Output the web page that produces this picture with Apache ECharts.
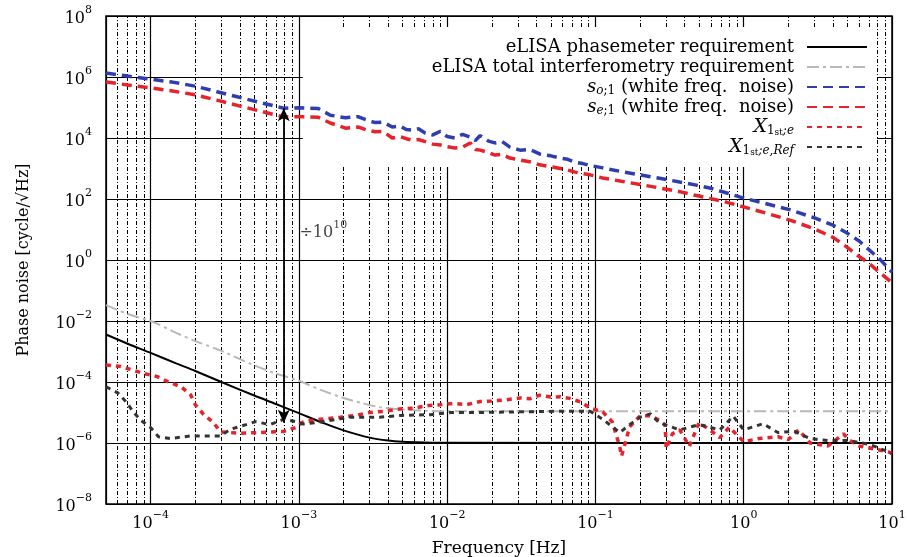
<!DOCTYPE html>
<html>
<head>
<meta charset="utf-8">
<script src="https://cdn.jsdelivr.net/npm/echarts@6/dist/echarts.min.js"></script>
<style>
html,body{margin:0;padding:0;background:#fff;}
#chart{width:907px;height:557px;}
</style>
</head>
<body>
<div id="chart"></div>
<script>
// ---------- data ----------
const seriesNames = [
  'eLISA phasemeter requirement',
  'eLISA total interferometry requirement',
  's_o1',
  's_e1',
  'X1e',
  'X1eRef'
];

// eLISA phasemeter requirement
const freqPM = [5e-5, 7e-5, 1e-4, 1.5e-4, 2e-4, 3e-4, 5e-4, 7e-4, 1e-3, 1.5e-3, 2e-3, 3e-3, 4e-3, 5e-3, 7e-3, 1e-2, 10];
const valPM  = [3.6e-3, 1.8e-3, 9e-4, 4e-4, 2.3e-4, 1e-4, 3.6e-5, 1.9e-5, 9.5e-6, 4.3e-6, 2.6e-6, 1.5e-6, 1.2e-6, 1.1e-6, 1.04e-6, 1.01e-6, 1e-6];

// eLISA total interferometry requirement
const freqTI = [5e-5, 7e-5, 1e-4, 1.5e-4, 2e-4, 3e-4, 5e-4, 7e-4, 1e-3, 1.4e-3, 2e-3, 2.7e-3, 3.5e-3, 5e-3, 7e-3, 1e-2, 10];
const valTI  = [3.3e-2, 1.7e-2, 1.0e-2, 4e-3, 2.2e-3, 1.05e-3, 3.5e-4, 1.9e-4, 1.1e-4, 5.5e-5, 3e-5, 2e-5, 1.5e-5, 1.25e-5, 1.15e-5, 1.1e-5, 1.1e-5];

// s_{o;1} and s_{e;1} (white freq. noise)
const freqS = [5e-5, 7e-5, 1e-4, 1.4e-4, 2e-4, 2.8e-4, 3.9e-4, 5.5e-4, 7.9e-4, 1e-3,
  1.35e-3, 1.63e-3, 2.06e-3, 2.5e-3, 2.9e-3, 3.27e-3, 3.7e-3, 4.26e-3, 4.8e-3, 5.3e-3,
  5.8e-3, 6.4e-3, 7.1e-3, 8e-3, 9e-3, 1e-2, 1.13e-2, 1.27e-2, 1.43e-2, 1.55e-2,
  1.67e-2, 1.9e-2, 2.1e-2, 2.35e-2, 2.65e-2, 3.1e-2, 3.6e-2, 4.2e-2, 5e-2, 5.8e-2,
  6.5e-2, 7.3e-2, 8.2e-2, 9.2e-2, 0.112, 0.15, 0.2, 0.27, 0.37, 0.47,
  0.59, 0.76, 1, 1.4, 2.07, 3.0, 4.0, 4.94, 6.0, 7.05, 8.3, 10];
const valSo = [1.35e6, 1.07e6, 8.5e5, 6.8e5, 5.0e5, 3.3e5, 2.2e5, 1.45e5, 9.5e4, 9.8e4,
  9.3e4, 5.6e4, 4.6e4, 5.0e4, 3.8e4, 3.2e4, 3.3e4, 2.3e4, 2.5e4, 1.9e4,
  1.8e4, 2.0e4, 1.45e4, 1.26e4, 1.66e4, 1.12e4, 1.0e4, 1.32e4, 1.07e4, 8.3e3,
  1.2e4, 7.9e3, 6.9e3, 7.6e3, 5.0e3, 4.0e3, 4.2e3, 3.0e3, 2.6e3, 2.2e3,
  2.0e3, 1.6e3, 1.45e3, 1.26e3, 1.05e3, 7.9e2, 6.2e2, 4.8e2, 3.6e2, 2.9e2,
  2.3e2, 1.6e2, 1.07e2, 71, 44, 24, 13.8, 7.8, 4.2, 2.1, 1.05, 0.4];
const valSe = [6.9e5, 5.5e5, 4.4e5, 3.5e5, 2.6e5, 1.74e5, 1.15e5, 7.6e4, 4.9e4, 5.0e4,
  4.8e4, 3.1e4, 2.1e4, 2.3e4, 1.8e4, 1.6e4, 1.66e4, 1.0e4, 1.12e4, 9.5e3,
  8.5e3, 8.9e3, 7.6e3, 6.3e3, 5.9e3, 5.2e3, 4.7e3, 5.0e3, 6.9e3, 4.2e3,
  4.0e3, 3.3e3, 2.75e3, 2.9e3, 2.2e3, 1.9e3, 1.66e3, 1.32e3, 1.15e3, 1.0e3,
  8.9e2, 7.6e2, 6.8e2, 6.2e2, 4.9e2, 3.8e2, 3.0e2, 2.3e2, 1.74e2, 1.32e2,
  1.05e2, 79, 55, 35, 20, 10.5, 5.5, 2.7, 1.3, 0.76, 0.38, 0.18];

// X_{1st;e}
const freqX = [5e-5, 5.4e-5, 6.3e-5, 7.7e-5, 9e-5, 1.11e-4, 1.32e-4, 1.6e-4, 1.86e-4, 2e-4,
  2.28e-4, 2.66e-4, 2.96e-4, 4e-4, 5.5e-4, 7.9e-4, 9.5e-4, 1.07e-3, 1.3e-3, 1.9e-3,
  2.4e-3, 3e-3, 3.8e-3, 4.8e-3, 6e-3, 7.5e-3, 9e-3, 1.1e-2, 1.35e-2, 1.67e-2,
  2e-2, 2.5e-2, 3.1e-2, 3.6e-2, 4.2e-2, 5e-2, 5.8e-2, 6.7e-2, 8e-2, 9.2e-2,
  0.112, 0.13, 0.146, 0.15, 0.17, 0.2, 0.235, 0.27, 0.295, 0.3,
  0.33, 0.37, 0.43, 0.5, 0.59, 0.69, 0.8, 1.0, 1.27, 1.7,
  2.0, 2.35, 2.8, 3.7, 4.7, 5.2, 6, 8.1, 9.6, 10];
const valX = [3.6e-4, 3.5e-4, 3.2e-4, 2.4e-4, 1.9e-4, 1.5e-4, 1.0e-4, 7e-5, 3.8e-5, 1.8e-5,
  8.6e-6, 4.6e-6, 2.3e-6, 2.1e-6, 2.2e-6, 2.4e-6, 3.2e-6, 4.9e-6, 5.8e-6, 7e-6,
  8e-6, 1e-5, 1.1e-5, 1.3e-5, 1.4e-5, 1.7e-5, 1.8e-5, 2.0e-5, 1.8e-5, 2.3e-5,
  2.4e-5, 2.6e-5, 3.0e-5, 2.8e-5, 3.7e-5, 3.2e-5, 3.3e-5, 2.9e-5, 2.2e-5, 1.4e-5,
  1.05e-5, 4.9e-6, 7.4e-7, 3.7e-7, 3.4e-6, 7.8e-6, 7.8e-6, 5.5e-6, 4e-6, 6.6e-7,
  2e-6, 2.7e-6, 7.8e-7, 4.7e-6, 2.7e-6, 1.5e-6, 3.3e-6, 1.1e-6, 1.4e-6, 1.6e-6,
  1.3e-6, 2.7e-6, 1.0e-6, 8e-7, 2.0e-6, 1.2e-6, 8e-7, 6e-7, 5e-7, 4.5e-7];

// X_{1st;e,Ref}
const freqR = [5e-5, 6e-5, 6.8e-5, 7.7e-5, 8.6e-5, 1e-4, 1.13e-4, 1.36e-4, 1.86e-4, 2.96e-4,
  3.45e-4, 4.4e-4, 5.1e-4, 6.4e-4, 7.9e-4, 9.5e-4, 1.07e-3, 1.4e-3, 2.2e-3, 3.5e-3,
  4.8e-3, 7.7e-3, 1.05e-2, 1.67e-2, 3.1e-2, 5.8e-2, 9.2e-2, 0.112, 0.146, 0.17,
  0.2, 0.235, 0.27, 0.37, 0.5, 0.69, 0.85, 1.0, 1.35, 1.7,
  2.2, 2.8, 3.7, 5.1, 7.05, 9.6, 10];
const valR = [7e-5, 4.4e-5, 2.3e-5, 1e-5, 5.5e-6, 3.2e-6, 1.6e-6, 1.4e-6, 1.7e-6, 1.7e-6,
  2.8e-6, 4e-6, 5e-6, 4e-6, 6e-6, 5e-6, 4.2e-6, 4.9e-6, 7e-6, 7e-6,
  8e-6, 8.5e-6, 1e-5, 1e-5, 1.05e-5, 1.1e-5, 1.1e-5, 6e-6, 2.2e-6, 4e-6,
  7e-6, 9e-6, 4.6e-6, 2.7e-6, 4e-6, 2.7e-6, 7.6e-6, 2.7e-6, 4.3e-6, 2.2e-6,
  2.4e-6, 1.4e-6, 1.2e-6, 1.2e-6, 9e-7, 5e-7, 4.5e-7];

// annotation: ratio arrow
const arrowFreq = 7.9e-4;
const arrowTop = 9.5e4;
const arrowBottom = 4.6e-6;
const arrowLabelPos = [1.0e-3, 9.5];

// axis ranges
const xMin = 5e-5, xMax = 10;
const yMin = 1e-8, yMax = 1e8;
const minorDecades = [-5, -4, -3, -2, -1, 0];
const minorMultipliers = [2, 3, 4, 5, 6, 7, 8, 9];

// ---------- chart ----------
const FONT = 'DejaVu Serif';
const pair = (f, v) => f.map((x, i) => [x, v[i]]);

const minorLines = [];
minorDecades.forEach(d => minorMultipliers.forEach(m => {
  const v = m * Math.pow(10, d);
  if (v > xMin * 1.0001 && v < xMax * 0.9999) minorLines.push({ xAxis: v });
}));

function powLabel(v) {
  const e = Math.round(Math.log10(v));
  if (Math.abs(v / Math.pow(10, e) - 1) > 1e-6) return '';
  const s = e < 0 ? '\u2212' + (-e) : String(e);
  return '{b|10}{s|' + s + '}';
}
const powRich = {
  b: { fontFamily: FONT, fontSize: 16, lineHeight: 22, verticalAlign: 'bottom', color: '#000' },
  s: { fontFamily: FONT, fontSize: 11, lineHeight: 12, verticalAlign: 'top', color: '#000' }
};

const legendText = {
  'eLISA phasemeter requirement': 'eLISA phasemeter requirement',
  'eLISA total interferometry requirement': 'eLISA total interferometry requirement',
  's_o1': '{i|s}{subi|o}{sub|;1} (white freq.  noise)',
  's_e1': '{i|s}{subi|e}{sub|;1} (white freq.  noise)',
  'X1e': '{X|X}{sub|1}{ss|st}{subi|;e}',
  'X1eRef': '{X|X}{sub|1}{ss|st}{subi|;e,Ref}'
};

const chart = echarts.init(document.getElementById('chart'), null, { renderer: 'canvas' });
chart.setOption({
  animation: false,
  backgroundColor: '#fff',
  grid: { left: 106, right: 15, top: 16, bottom: 53, show: true, borderColor: '#000', borderWidth: 1.5, containLabel: false, outerBoundsMode: 'none' },
  xAxis: {
    type: 'log', logBase: 10, min: xMin, max: xMax,
    name: 'Frequency [Hz]', nameLocation: 'middle', nameGap: 36,
    nameTextStyle: { fontFamily: FONT, fontSize: 17, color: '#000' },
    axisLine: { show: false }, axisTick: { show: false },
    axisLabel: { interval: 0, margin: 6, formatter: powLabel, rich: powRich, hideOverlap: false },
    splitLine: { show: true, lineStyle: { color: '#000', width: 1.2, type: 'solid' } },
    minorSplitLine: { show: false }
  },
  yAxis: {
    type: 'log', logBase: 100, min: yMin, max: yMax, splitNumber: 8,
    name: 'Phase noise [cycle/\u221AHz]', nameLocation: 'middle', nameGap: 74,
    nameTextStyle: { fontFamily: FONT, fontSize: 16, color: '#000' },
    axisLine: { show: false }, axisTick: { show: false },
    axisLabel: { margin: 14, formatter: powLabel, rich: powRich },
    splitLine: { show: true, lineStyle: { color: '#000', width: 1.2, type: 'solid' } }
  },
  legend: {
    data: seriesNames,
    orient: 'vertical', align: 'right', right: 30, top: 27,
    padding: [10, 9, 10, 129], backgroundColor: '#fff', z: 1,
    itemWidth: 60, itemHeight: 14, itemGap: 0, selectedMode: false,
    itemStyle: { opacity: 0 },
    formatter: n => legendText[n],
    textStyle: {
      fontFamily: FONT, fontSize: 18, color: '#000', lineHeight: 20, padding: [0, 8, 0, 0],
      rich: {
        i: { fontFamily: FONT, fontSize: 18, fontStyle: 'italic', lineHeight: 20 },
        X: { fontFamily: FONT, fontSize: 19, fontStyle: 'italic', lineHeight: 20 },
        sub: { fontFamily: FONT, fontSize: 12, lineHeight: 10, verticalAlign: 'bottom' },
        subi: { fontFamily: FONT, fontSize: 12, fontStyle: 'italic', lineHeight: 10, verticalAlign: 'bottom' },
        ss: { fontFamily: FONT, fontSize: 9, lineHeight: 15, verticalAlign: 'bottom' }
      }
    }
  },
  series: [
    {
      name: 'minor-grid', type: 'line', data: [], z: 0, silent: true,
      markLine: {
        z: 0, silent: true, symbol: ['none', 'none'], animation: false, precision: 12,
        label: { show: false },
        lineStyle: { color: '#000', width: 1, type: [4, 2, 1, 2] },
        data: minorLines
      }
    },
    {
      name: seriesNames[0], type: 'line', data: pair(freqPM, valPM), z: 3,
      symbol: 'none', smooth: 0.3,
      lineStyle: { color: '#000', width: 2, type: 'solid' }, itemStyle: { color: '#000' }
    },
    {
      name: seriesNames[1], type: 'line', data: pair(freqTI, valTI), z: 3,
      symbol: 'none', smooth: 0.3,
      lineStyle: { color: '#b8b8b8', width: 2, type: [12, 4, 3, 4] }, itemStyle: { color: '#b8b8b8' }
    },
    {
      name: seriesNames[2], type: 'line', data: pair(freqS, valSo), z: 4,
      symbol: 'none',
      lineStyle: { color: '#2e3db0', width: 3.5, type: [10, 6] }, itemStyle: { color: '#2e3db0' }
    },
    {
      name: seriesNames[3], type: 'line', data: pair(freqS, valSe), z: 4,
      symbol: 'none',
      lineStyle: { color: '#e8222a', width: 3.5, type: [10, 6] }, itemStyle: { color: '#e8222a' }
    },
    {
      name: seriesNames[4], type: 'line', data: pair(freqX, valX), z: 5,
      symbol: 'none',
      lineStyle: { color: '#e8222a', width: 3.5, type: [5, 5] }, itemStyle: { color: '#e8222a' }
    },
    {
      name: seriesNames[5], type: 'line', data: pair(freqR, valR), z: 5,
      symbol: 'none',
      lineStyle: { color: '#333', width: 3, type: [5, 5] }, itemStyle: { color: '#333' }
    },
    {
      name: 'annotation', type: 'line', data: [], z: 6, silent: true,
      markLine: {
        z: 6, silent: true, symbol: ['arrow', 'arrow'], symbolSize: [9, 13], animation: false, precision: 12,
        label: { show: false },
        lineStyle: { color: '#000', width: 1.8, type: 'solid' },
        data: [[{ coord: [arrowFreq, arrowTop] }, { coord: [arrowFreq, arrowBottom] }]]
      },
      markPoint: {
        z: 6, silent: true, symbol: 'circle', symbolSize: 1, animation: false,
        itemStyle: { color: 'rgba(0,0,0,0)' },
        label: {
          show: true, position: 'right', distance: 0,
          formatter: '{a|\u00F710}{s|10}',
          rich: {
            a: { fontFamily: FONT, fontSize: 16, lineHeight: 22, verticalAlign: 'bottom', color: '#444' },
            s: { fontFamily: FONT, fontSize: 11, lineHeight: 12, verticalAlign: 'top', color: '#444' }
          }
        },
        data: [{ coord: arrowLabelPos }]
      }
    }
  ]
});
</script>
</body>
</html>
